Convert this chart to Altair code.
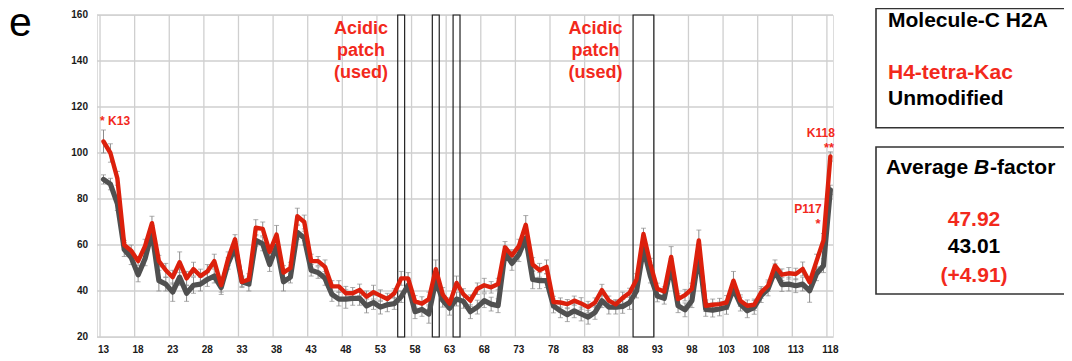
import altair as alt
import pandas as pd

# ---------------- data ----------------
residues = list(range(13, 119))
kac = [105, 100, 89, 60, 57.5, 53, 59.5, 69.5, 53, 49,
       46, 52.5, 45.5, 49.5, 46.5, 48.5, 53, 42.5, 54, 62.5,
       44, 45, 67.5, 67, 57, 64.5, 48, 50, 72.5, 70,
       53, 53, 50.5, 42, 42, 39, 39, 40.5, 37.5, 39.5,
       38, 36.5, 39, 45.5, 45.5, 35.5, 34.5, 36.5, 49.5, 38.5,
       34.5, 43.5, 38.5, 35.8, 41, 42.5, 41.6, 43, 59, 55.5,
       59.5, 68.8, 51.5, 49, 50.5, 35.2, 35, 34.3, 35.8, 34.6,
       33, 35, 40.4, 35.8, 34.2, 37, 39.2, 45, 64.8, 51.7,
       40.9, 39.8, 54.8, 36.5, 38.2, 40.9, 62, 33.6, 34, 34.3,
       35, 44.5, 35.8, 33.6, 34, 39.4, 42.3, 51, 47.1, 47.7,
       47.4, 49.6, 43.8, 53, 62, 98.5]
unmod = [88.5, 86.5, 78, 58, 54.5, 47, 54, 65.5, 44.5, 43,
         39.5, 46, 39, 42.5, 43, 45, 46.5, 41.5, 52, 59,
         44, 43, 62, 60.5, 51.5, 59.5, 44, 46, 65.5, 63,
         49, 48, 45.5, 38.5, 36.5, 36.5, 36.8, 36.8, 33.5, 35,
         33, 34, 34.5, 37.5, 42.5, 31, 32, 30, 44.5, 36,
         32.5, 36.5, 35.5, 31, 33, 35.8, 34.3, 33.6, 56.5, 52,
         55.8, 63, 45, 44.5, 44.5, 33.5, 31.4, 29.7, 31.4, 30,
         28.6, 30.7, 35.8, 33, 33, 33.3, 35, 40, 58.5, 46.5,
         37.8, 36.8, 51, 33.6, 31.8, 35.8, 56, 32, 31.7, 32.2,
         32.9, 40.9, 34.3, 31.4, 32.9, 38, 40.9, 48.8, 42.8, 43,
         42.3, 43, 40.1, 47.5, 51, 84]
kac_err = [5, 4, 3, 2, 2.5, 2, 3, 3, 2.5, 3,
           3, 4.5, 3, 3, 3, 3, 3, 3, 3, 2,
           2, 2.5, 3.5, 3, 3, 4, 3, 2.5, 3.5, 3,
           3, 2, 3, 2.5, 2.5, 3, 2.5, 2.5, 2.5, 3,
           2.5, 2.5, 2, 3, 2.5, 2.5, 3, 3, 4, 3,
           2.5, 3, 2.5, 2.5, 2.5, 3, 2.5, 2.5, 2.5, 2.5,
           3, 4, 3, 3, 3, 2.5, 2, 2, 2, 2.5,
           2.5, 2, 2.5, 2, 2, 2.5, 2, 2.5, 2.5, 2.5,
           2.5, 2, 4.5, 2.5, 2.5, 2.5, 4.5, 2.5, 2.5, 2.5,
           3, 4, 2.5, 2.5, 2.5, 2.5, 2.5, 2.5, 2.5, 2.5,
           2.5, 3, 2.5, 3, 3, 2]
unmod_err = [2, 2.5, 3, 3, 3, 3, 3, 3, 4.5, 3,
             4, 3.5, 3.5, 3.5, 3, 3, 3, 3, 2.5, 2.5,
             2.5, 3, 2.5, 3, 3, 3, 4, 2.5, 3, 3,
             2.5, 2.5, 3, 3, 3, 4, 3, 3, 3, 3,
             3, 3, 2.5, 2.5, 3, 3, 3, 4, 3.5, 3,
             3, 3, 3, 3, 3, 3, 3, 3, 3, 3,
             3, 3, 4, 3.5, 3, 3, 3, 3, 3, 3,
             3, 3, 3, 3, 3, 3, 3, 3, 3, 3,
             2.5, 2.5, 3, 3, 3, 3, 3, 3, 3, 3,
             3, 3, 3, 3, 3, 3, 3, 3, 3, 3,
             3, 3, 5, 3, 3, 2]
x_ticks = list(range(13, 119, 5))
y_ticks = [20, 40, 60, 80, 100, 120, 140, 160]
patch_start = [56, 61, 64, 90]
patch_end = [56, 61, 64, 92]

# ---------------- styles ----------------
FONT = "Liberation Sans"
RED_LINE = "#dc200c"
RED_TEXT = "#f2291c"
GRAY_LINE = "#505050"
ERR = "#8c8c8c"
GRID = "#cfcfcf"
LABEL = "#1a1a1a"

W, H = 736, 322
XDOM = [12.061, 118.38]
YDOM = [20, 160]

df = pd.DataFrame({"residue": residues * 2,
                   "value": kac + unmod,
                   "err": kac_err + unmod_err,
                   "series": ["H4-tetra-Kac"] * len(residues) + ["Unmodified"] * len(residues)})
df["lo"] = df["value"] - df["err"]
df["hi"] = df["value"] + df["err"]

xs = alt.Scale(domain=XDOM, nice=False, zero=False)
ys = alt.Scale(domain=YDOM, nice=False, zero=False)


def X(f):
    return alt.X(f, scale=xs, axis=None)


def Y(f):
    return alt.Y(f, scale=ys, axis=None)


base = alt.Chart(df)

# horizontal grid + y tick labels
ydf = pd.DataFrame({"t": y_ticks})
hgrid = alt.Chart(ydf).mark_rule(color=GRID, strokeWidth=1.3).encode(
    y=Y("t:Q"), x=alt.value(0), x2=alt.value(W))
ylabels = alt.Chart(ydf).mark_text(
    font=FONT, fontWeight="bold", fontSize=10, color=LABEL, baseline="middle", align="right").encode(
    y=Y("t:Q"), x=alt.value(-9), text="t:N")

# vertical grid + x tick labels
xdf = pd.DataFrame({"t": x_ticks})
vgrid = alt.Chart(xdf).transform_calculate(g="datum.t - 0.5").mark_rule(
    color=GRID, strokeWidth=1.3).encode(
    x=X("g:Q"), y=alt.datum(20, scale=ys, axis=None), y2=alt.datum(160))
xlabels = alt.Chart(xdf).mark_text(
    font=FONT, fontWeight="bold", fontSize=10, color=LABEL, baseline="middle", align="center").encode(
    x=X("t:Q"), y=alt.value(H + 12.5), text="t:N")

patches = alt.Chart(pd.DataFrame({"s": patch_start, "e": patch_end})).transform_calculate(
    a="datum.s - 0.5", b="datum.e + 0.5").mark_rect(
    fill=None, stroke="#222222", strokeWidth=1.2).encode(
    x=X("a:Q"), x2="b:Q", y=alt.datum(20, scale=ys, axis=None), y2=alt.datum(160))


def series_layers(name, color, width):
    d = base.transform_filter(alt.datum.series == name)
    bars = d.mark_rule(color=ERR, strokeWidth=1).encode(
        x=X("residue:Q"), y=Y("lo:Q"), y2="hi:Q")
    cap_lo = d.mark_tick(color=ERR, thickness=1, size=5, orient="horizontal").encode(
        x=X("residue:Q"), y=Y("lo:Q"))
    cap_hi = d.mark_tick(color=ERR, thickness=1, size=5, orient="horizontal").encode(
        x=X("residue:Q"), y=Y("hi:Q"))
    line = d.mark_line(color=color, strokeWidth=width, strokeJoin="round", strokeCap="round").encode(
        x=X("residue:Q"), y=Y("value:Q"))
    return bars, cap_lo, cap_hi, line


g_bars, g_lo, g_hi, g_line = series_layers("Unmodified", GRAY_LINE, 5.2)
r_bars, r_lo, r_hi, r_line = series_layers("H4-tetra-Kac", RED_LINE, 4.4)


def dlabel(text, x, y, color=RED_TEXT, size=12, align="center", baseline="middle", weight="bold"):
    return alt.Chart(pd.DataFrame({"t": [text], "x": [x], "y": [y]})).mark_text(
        font=FONT, fontSize=size, fontWeight=weight, color=color, align=align, baseline=baseline).encode(
        x=X("x:Q"), y=Y("y:Q"), text="t:N")


def plabel(text, x, y, color="black", size=21, align="left", baseline="middle", weight="bold", style="normal"):
    return alt.Chart(pd.DataFrame({"t": [text]})).mark_text(
        font=FONT, fontSize=size, fontWeight=weight, fontStyle=style, color=color,
        align=align, baseline=baseline).encode(
        x=alt.value(x), y=alt.value(y), text="t:N")


def pbox(x1, x2, y1, y2):
    return alt.Chart(pd.DataFrame({"a": [0]})).mark_rect(
        fill=None, stroke="#333333", strokeWidth=1.6).encode(
        x=alt.value(x1), x2=alt.value(x2), y=alt.value(y1), y2=alt.value(y2))


annots = []
for cx in (50.19, 84.06):
    for txt, yy in (("Acidic", 153.9), ("patch", 144.3), ("(used)", 134.8)):
        annots.append(dlabel(txt, cx, yy, size=18))
annots += [
    dlabel("* K13", 12.5, 114.0, align="left"),
    dlabel("K118", 118.65, 108.8, align="right"),
    dlabel("**", 118.55, 102.0, align="right", size=13),
    dlabel("P117", 116.73, 75.6, align="right"),
    dlabel("*", 116.6, 69.0, align="right", size=13),
]

# Pixel positions relative to plot origin (97, 15)
panel = [
    pbox(779, 985, -6.5, 112.7),
    pbox(779, 985, 132, 279),
    plabel("Molecule-C H2A", 791, 6),
    plabel("H4-tetra-Kac", 791, 58, color=RED_TEXT),
    plabel("Unmodified", 791, 84),
    plabel("Average ", 789, 153),
    plabel("B", 877, 153, style="italic"),
    plabel("-factor", 893, 153),
    plabel("47.92", 877, 205, color=RED_TEXT, align="center"),
    plabel("43.01", 877, 232, align="center"),
    plabel("(+4.91)", 877, 260.5, color=RED_TEXT, align="center"),
    plabel("e", -88, 21, size=41, weight="normal", baseline="alphabetic"),
]

chart = alt.layer(
    hgrid, vgrid, patches, ylabels, xlabels,
    g_bars, g_lo, g_hi, r_bars, r_lo, r_hi,
    g_line, r_line,
    *annots, *panel
).properties(
    width=W, height=H,
    padding={"left": 89, "top": 7, "right": 231, "bottom": 16},
    autosize=alt.AutoSizeParams(type="none"),
).configure_view(stroke=None).configure(background="white")

chart.save("out.html", embed_options={"renderer": "svg", "actions": False})
